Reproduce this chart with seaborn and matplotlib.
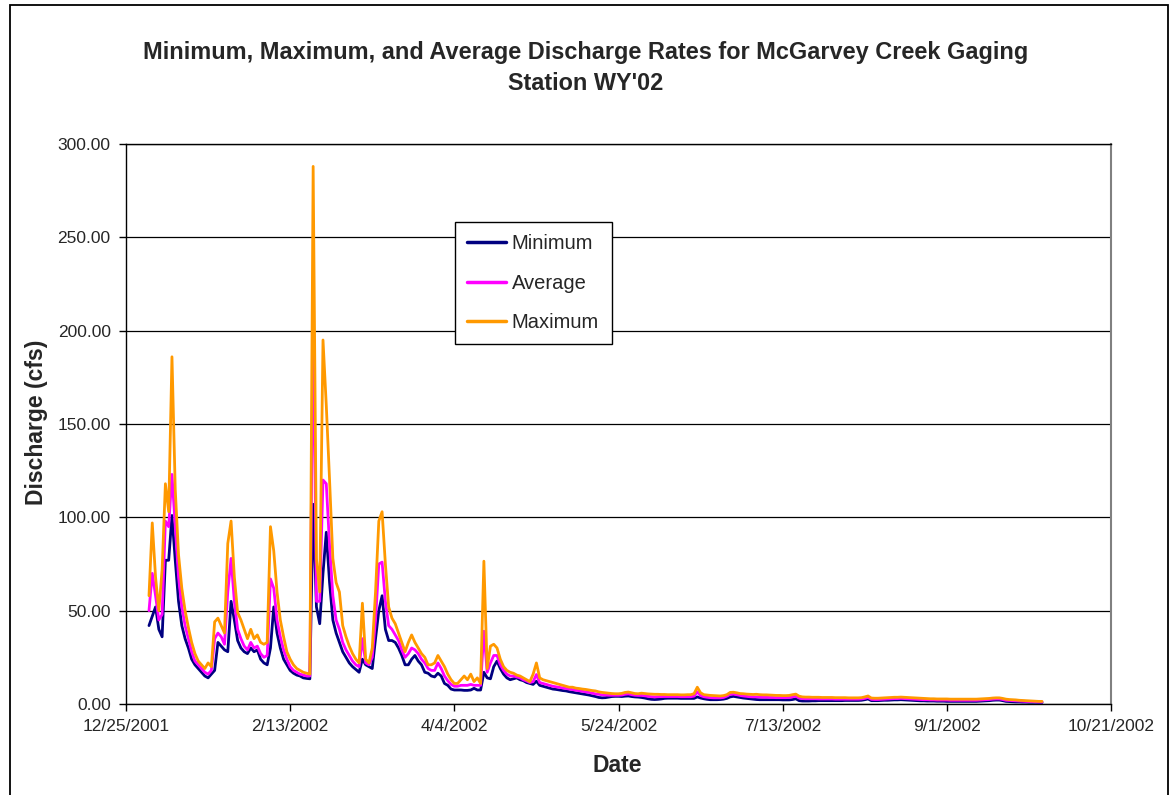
import pandas as pd
import matplotlib
matplotlib.use("Agg")
import matplotlib.pyplot as plt
import matplotlib.dates as mdates
from matplotlib.patches import Rectangle
from matplotlib.ticker import FuncFormatter, FormatStrFormatter
import seaborn as sns

# Daily discharge (cfs) at the McGarvey Creek gaging station, 1 Jan - 30 Sep 2002
start_date = "2002-01-01"

minimum_cfs = [
    42, 47, 52, 40, 36, 77, 77, 101, 77, 55,
    42, 35, 30, 24, 21, 19, 17, 15, 14, 16,
    18, 33, 31, 29, 28, 55, 45, 34, 30, 28,
    27, 30, 28, 29, 24, 22, 21, 30, 52, 38,
    30, 24, 21, 18, 16.5, 15.5, 15, 14, 13.7, 13.5,
    107, 52, 43, 70, 92, 65, 45, 38, 33, 28,
    25, 22, 20, 18.5, 17, 24, 21, 20, 19, 35,
    50, 58, 40, 34, 34, 33, 30, 26, 21, 21,
    24, 26, 23, 21, 17, 16.5, 15, 14.5, 16.5, 15,
    11, 10, 8, 7.5, 7.5, 7.5, 7.3, 7.3, 7.5, 8.4,
    7.5, 7.5, 17, 14, 13.5, 20, 23, 19, 16, 14,
    13, 13.5, 14, 13, 12.5, 11.5, 11, 10.5, 12.2, 10,
    9.5, 9, 8.5, 8, 7.8, 7.5, 7.2, 7, 6.6, 6.3,
    6, 5.7, 5.4, 5.1, 4.8, 4.4, 4, 3.5, 3.3, 3.4,
    3.7, 4, 4.1, 4.1, 4.0, 4.2, 4.3, 4.0, 3.8, 3.7,
    3.5, 3.2, 2.8, 2.5, 2.4, 2.5, 2.7, 3.0, 3.1, 3.1,
    3.1, 3.1, 3.0, 3.0, 3.0, 3.0, 3.0, 3.8, 3.2, 2.8,
    2.5, 2.3, 2.3, 2.3, 2.4, 2.6, 3.0, 3.8, 4.1, 3.8,
    3.5, 3.2, 3.0, 2.8, 2.6, 2.4, 2.3, 2.3, 2.3, 2.3,
    2.3, 2.3, 2.3, 2.2, 2.2, 2.2, 2.4, 2.8, 1.8, 1.6,
    1.6, 1.6, 1.7, 1.7, 1.8, 1.8, 1.8, 1.8, 1.8, 1.8,
    1.8, 1.8, 1.9, 1.9, 1.9, 1.9, 1.9, 2.0, 2.3, 2.7,
    1.8, 1.8, 1.8, 1.9, 2.0, 2.0, 2.1, 2.2, 2.2, 2.3,
    2.2, 2.1, 2.0, 1.9, 1.8, 1.7, 1.7, 1.6, 1.6, 1.6,
    1.5, 1.5, 1.5, 1.4, 1.4, 1.4, 1.4, 1.4, 1.4, 1.4,
    1.4, 1.4, 1.4, 1.5, 1.6, 1.7, 1.8, 2.0, 2.1, 2.1,
    1.8, 1.4, 1.3, 1.2, 1.1, 1.1, 1.0, 1.0, 0.9, 0.9,
    0.9, 0.8, 0.8,
]

average_cfs = [
    50, 70, 58, 45, 48, 98, 95, 123, 95, 68,
    52, 42, 35, 28, 23, 21, 19, 17, 16, 18,
    35, 38, 36, 32, 60, 78, 55, 40, 35, 31,
    29, 33, 30, 31, 27, 25, 26, 67, 62, 45,
    36, 29, 24, 20, 18, 17, 16, 15.5, 15, 15,
    214, 55, 55, 120, 118, 85, 58, 45, 40, 33,
    29, 26, 23, 21, 20, 35, 22, 21, 25, 45,
    75, 76, 55, 42, 40, 37, 34, 29, 25, 27,
    30, 29, 27, 24, 22, 19, 18, 18, 22, 19,
    15, 12.5, 10.5, 9.5, 9.5, 10, 10, 10, 10.5, 10,
    10, 10, 39, 17, 22, 26, 26, 21, 18, 16,
    15, 15, 14.5, 14, 13, 12.3, 11.5, 12, 15.8, 11.5,
    11, 10.5, 10, 9.5, 9.2, 8.9, 8.6, 8.3, 8, 7.7,
    7.4, 7.1, 6.8, 6.5, 6.2, 5.8, 5.4, 5.2, 4.9, 4.8,
    4.7, 4.7, 4.7, 4.7, 4.8, 5.2, 5.4, 5.0, 4.7, 4.6,
    4.6, 4.4, 4.1, 3.9, 3.8, 3.9, 4.0, 4.0, 4.0, 4.0,
    4.0, 4.0, 3.9, 3.9, 3.9, 3.9, 4.2, 6.5, 4.5, 3.9,
    3.6, 3.4, 3.3, 3.3, 3.3, 3.5, 4.2, 5.2, 5.3, 5.0,
    4.6, 4.3, 4.1, 3.9, 3.8, 3.8, 3.7, 3.6, 3.6, 3.5,
    3.5, 3.4, 3.4, 3.4, 3.4, 3.5, 3.8, 4.2, 3.2, 2.9,
    2.8, 2.8, 2.8, 2.8, 2.7, 2.7, 2.7, 2.7, 2.7, 2.6,
    2.6, 2.6, 2.6, 2.6, 2.6, 2.6, 2.6, 2.7, 3.0, 3.5,
    2.5, 2.4, 2.4, 2.5, 2.6, 2.7, 2.8, 2.9, 2.9, 3.0,
    2.9, 2.8, 2.7, 2.6, 2.5, 2.4, 2.3, 2.3, 2.2, 2.2,
    2.1, 2.1, 2.1, 2.1, 2.0, 2.0, 2.0, 2.0, 2.0, 2.0,
    2.0, 2.0, 2.0, 2.1, 2.2, 2.3, 2.4, 2.6, 2.7, 2.7,
    2.4, 2.0, 1.9, 1.8, 1.7, 1.6, 1.5, 1.4, 1.3, 1.3,
    1.2, 1.1, 1.1,
]

maximum_cfs = [
    58, 97, 68, 50, 72, 118, 103, 186, 115, 80,
    62, 50, 41, 33, 27, 23, 21, 19, 22, 20,
    44, 46, 42, 38, 86, 98, 68, 49, 45, 40,
    35, 40, 35, 37, 33, 32, 33, 95, 82, 60,
    45, 36, 28, 24, 21, 19, 18, 17, 16.5, 16,
    288, 78, 60, 195, 160, 120, 78, 65, 60, 42,
    36, 31, 27, 24, 22, 54, 24, 22, 30, 60,
    98, 103, 75, 52, 46, 43, 38, 33, 28, 33,
    37, 33, 30, 27, 25, 21, 21, 22, 26, 23,
    20, 16, 13, 11, 11, 13, 15, 13, 16, 12,
    14, 11, 76.5, 19, 31, 32, 30, 24, 20, 18,
    17, 16.5, 15.5, 15, 14, 13, 12, 16, 22, 14,
    13, 12.5, 12, 11.5, 11, 10.5, 10, 9.5, 9, 9,
    8.5, 8.3, 8, 7.8, 7.5, 7.2, 7, 6.5, 6.2, 6.0,
    5.8, 5.6, 5.5, 5.5, 5.7, 6.2, 6.4, 6.0, 5.6, 5.5,
    5.8, 5.6, 5.4, 5.3, 5.2, 5.2, 5.1, 5.1, 5.0, 5.0,
    5.0, 5.0, 4.9, 4.9, 5.0, 5.0, 5.5, 9.0, 6.0, 5.0,
    4.8, 4.6, 4.5, 4.4, 4.3, 4.5, 5.0, 6.2, 6.3, 6.0,
    5.6, 5.5, 5.3, 5.2, 5.1, 5.2, 5.0, 4.9, 4.9, 4.8,
    4.7, 4.6, 4.6, 4.5, 4.5, 4.6, 5.0, 5.3, 4.2, 3.8,
    3.7, 3.7, 3.6, 3.6, 3.6, 3.5, 3.5, 3.5, 3.5, 3.4,
    3.4, 3.4, 3.4, 3.3, 3.3, 3.3, 3.3, 3.4, 3.8, 4.3,
    3.2, 3.1, 3.1, 3.2, 3.3, 3.4, 3.5, 3.6, 3.6, 3.7,
    3.6, 3.5, 3.4, 3.3, 3.2, 3.1, 3.0, 2.9, 2.8, 2.8,
    2.7, 2.7, 2.7, 2.7, 2.6, 2.6, 2.6, 2.6, 2.6, 2.6,
    2.6, 2.6, 2.6, 2.7, 2.8, 2.9, 3.0, 3.2, 3.3, 3.3,
    3.0, 2.6, 2.4, 2.3, 2.2, 2.0, 1.9, 1.8, 1.7, 1.6,
    1.5, 1.4, 1.4,
]

series_names = ["Minimum", "Average", "Maximum"]
series_colors = ["#000080", "#FF00FF", "#FF9900"]
y_ticks = [0, 50, 100, 150, 200, 250, 300]
x_tick_dates = ["2001-12-25", "2002-02-13", "2002-04-04", "2002-05-24",
                "2002-07-13", "2002-09-01", "2002-10-21"]

title_lines = ["Minimum, Maximum, and Average Discharge Rates for McGarvey Creek Gaging",
               "Station WY'02"]

dates = pd.date_range(start_date, periods=len(minimum_cfs), freq="D")
wide = pd.DataFrame({"Date": dates,
                     "Minimum": minimum_cfs,
                     "Average": average_cfs,
                     "Maximum": maximum_cfs})
long = wide.melt(id_vars="Date", var_name="Series", value_name="Discharge")

sns.set_style("white")
plt.rcParams["font.family"] = ["Liberation Sans", "DejaVu Sans"]

W, H = 1171, 795
fig = plt.figure(figsize=(W / 100, H / 100), dpi=100)
left, right, top, bottom = 126, 1111, 144, 704
ax = fig.add_axes([left / W, 1 - bottom / H, (right - left) / W, (bottom - top) / H])

sns.lineplot(data=long, x="Date", y="Discharge", hue="Series",
             hue_order=series_names,
             palette=dict(zip(series_names, series_colors)),
             linewidth=2.0, ax=ax, zorder=3)

# axes ranges and ticks
tick_dates = pd.to_datetime(x_tick_dates)
ax.set_xlim(tick_dates[0], tick_dates[-1])
ax.set_xticks(tick_dates)
ax.xaxis.set_major_formatter(FuncFormatter(
    lambda v, pos: (lambda d: f"{d.month}/{d.day}/{d.year}")(mdates.num2date(v))))
ax.set_ylim(y_ticks[0], y_ticks[-1])
ax.set_yticks(y_ticks)
ax.yaxis.set_major_formatter(FormatStrFormatter("%.2f"))
ax.tick_params(axis="both", direction="out", length=5, width=1, color="black",
               labelsize=12.5, pad=6, bottom=True, left=True)

ax.yaxis.grid(True, color="black", linewidth=0.9)
ax.xaxis.grid(False)
ax.set_axisbelow(True)

for side in ["left", "bottom", "top"]:
    ax.spines[side].set_color("black")
    ax.spines[side].set_linewidth(1.0)
ax.spines["right"].set_color("#808080")
ax.spines["right"].set_linewidth(1.5)

ax.set_xlabel("")
ax.set_ylabel("")

# legend
handles, labels = ax.get_legend_handles_labels()
for h in handles:
    h.set_linewidth(2.5)
leg = ax.legend(handles, labels, loc="upper left",
                bbox_to_anchor=((455 - left) / (right - left), (bottom - 222) / (bottom - top)),
                borderaxespad=0, frameon=True, fancybox=False, shadow=False,
                fontsize=14.5, handlelength=1.9, handletextpad=0.3,
                labelspacing=1.0, borderpad=0.62)
leg.get_frame().set_edgecolor("black")
leg.get_frame().set_linewidth(1.0)
leg.get_frame().set_alpha(1.0)

# titles and axis labels
fig.text(0.5, 1 - 52 / H, title_lines[0], ha="center", va="center",
         fontsize=16.9, fontweight="bold")
fig.text(0.5, 1 - 84 / H, title_lines[1], ha="center", va="center",
         fontsize=16.9, fontweight="bold")
fig.text(617 / W, 1 - 765 / H, "Date", ha="center", va="center",
         fontsize=16.5, fontweight="bold")
fig.text(37 / W, 1 - 422 / H, "Discharge (cfs)", ha="center", va="center",
         rotation=90, fontsize=16.5, fontweight="bold")

# chart area border
fig.patches.append(Rectangle((10 / W, -0.05), (1168 - 10) / W, 1.05 - 5 / H,
                             transform=fig.transFigure, fill=False,
                             edgecolor="black", linewidth=1.3))

fig.savefig("out.png", dpi=100, facecolor="white")
